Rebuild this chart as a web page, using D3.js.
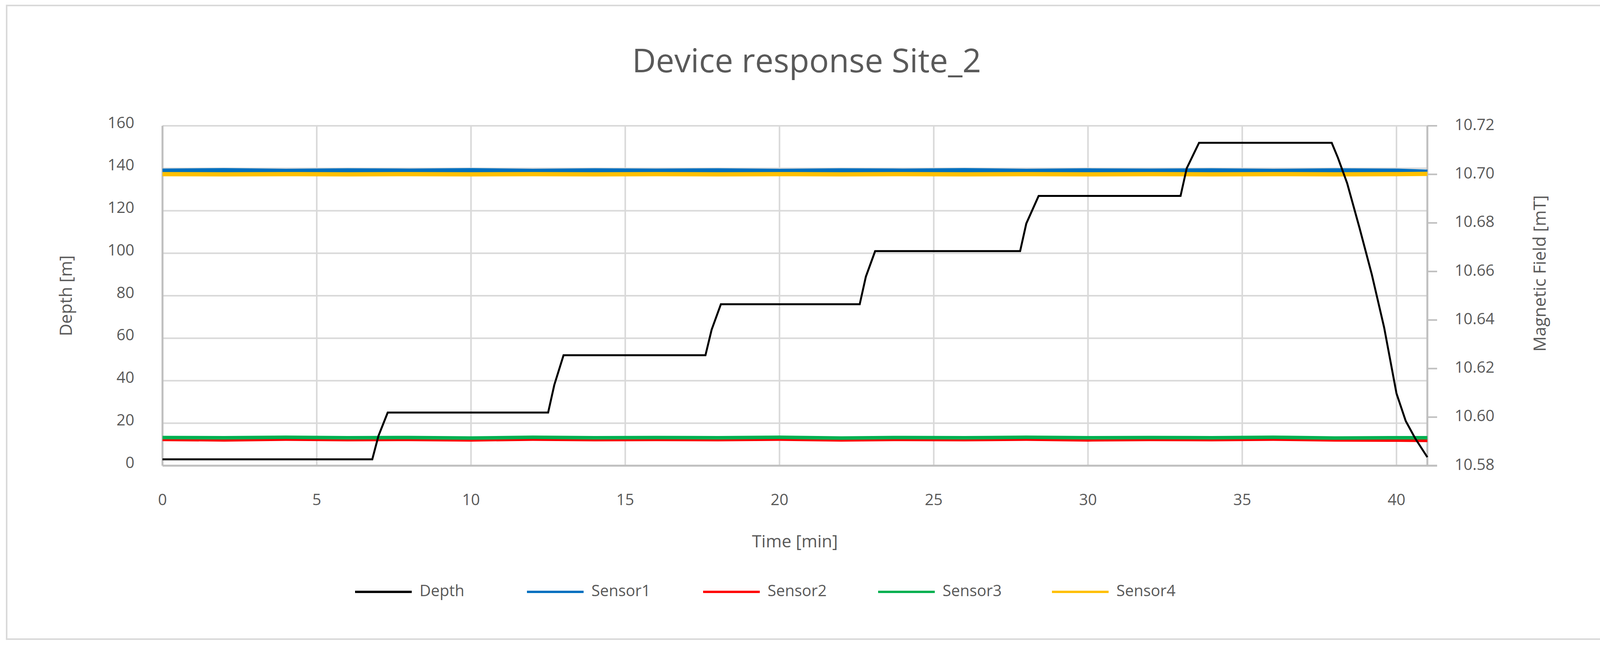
<!DOCTYPE html>
<html><head><meta charset="utf-8">
<script src="https://cdn.jsdelivr.net/npm/d3@7/dist/d3.min.js"></script>
<style>body{margin:0;background:#fff}text{font-family:"Open Sans",sans-serif;fill:#595959}</style>
</head><body><svg id="c" width="4131" height="1651"></svg>
<script>
const title = "Device response Site_2";
const xTicks = [0,5,10,15,20,25,30,35,40];
const depthTicks = [0,20,40,60,80,100,120,140,160];
const fieldTicks = [10.58,10.60,10.62,10.64,10.66,10.68,10.70,10.72];
const seriesNames = ["Depth","Sensor1","Sensor2","Sensor3","Sensor4"];
const seriesColors = ["#000000","#0070c0","#ff0000","#00b050","#ffc000"];
const depthT = [0,6.8,7.0,7.3,12.5,12.7,13.0,17.6,17.8,18.1,22.6,22.8,23.1,27.8,28.0,28.4,33.0,33.2,33.6,37.9,38.1,38.4,38.8,39.2,39.6,40.0,40.3,40.6,41.0];
const depthV = [3,3,14,25,25,38,52,52,64,76,76,89,101,101,114,127,127,140,152,152,145,133,112,90,65,34,21,13,4];
const sensorT = [0,2,4,6,8,10,12,14,16,18,20,22,24,26,28,30,32,34,36,38,40,41];
const sensor1 = [10.7015,10.7017,10.7014,10.7016,10.7015,10.7017,10.7014,10.7016,10.7015,10.7016,10.7014,10.7016,10.7015,10.7017,10.7014,10.7016,10.7015,10.7016,10.7014,10.7016,10.7015,10.7011];
const sensor2 = [10.5910,10.5908,10.5911,10.5909,10.5910,10.5908,10.5911,10.5909,10.5910,10.5909,10.5911,10.5908,10.5910,10.5909,10.5911,10.5908,10.5910,10.5909,10.5911,10.5908,10.5907,10.5906];
const sensor3 = [10.5916,10.5915,10.5917,10.5915,10.5916,10.5914,10.5917,10.5915,10.5916,10.5915,10.5917,10.5914,10.5916,10.5915,10.5917,10.5915,10.5916,10.5915,10.5917,10.5914,10.5915,10.5915];
const sensor4 = [10.7001,10.7000,10.7001,10.7000,10.7001,10.7000,10.7001,10.7000,10.7001,10.7000,10.7001,10.7000,10.7001,10.7000,10.7001,10.7000,10.7001,10.7000,10.7001,10.7000,10.7001,10.7002];

const svg = d3.select("#c");
const L=416,R=3654,T=322,B=1192;
svg.append("rect").attr("x",17).attr("y",14).attr("width",4096).attr("height",1622).attr("fill","#fff").attr("stroke","#d9d9d9").attr("stroke-width",4);
const x = d3.scaleLinear().domain([0,41]).range([L,R]);
const yL = d3.scaleLinear().domain([0,160]).range([B,T]);
const yR = d3.scaleLinear().domain([10.58,10.72]).range([B,T]);
const g = svg.append("g");
// grid
g.selectAll(".hg").data(depthTicks).join("line").attr("x1",L).attr("x2",R).attr("y1",d=>yL(d)).attr("y2",d=>yL(d)).attr("stroke","#d9d9d9").attr("stroke-width",4);
g.selectAll(".vg").data(xTicks).join("line").attr("x1",d=>x(d)).attr("x2",d=>x(d)).attr("y1",T).attr("y2",B).attr("stroke","#d9d9d9").attr("stroke-width",4);
// axes lines
g.append("line").attr("x1",L).attr("x2",L).attr("y1",T).attr("y2",B).attr("stroke","#bfbfbf").attr("stroke-width",5);
g.append("line").attr("x1",R).attr("x2",R).attr("y1",T).attr("y2",B).attr("stroke","#bfbfbf").attr("stroke-width",5);
g.append("line").attr("x1",L).attr("x2",R+25).attr("y1",B).attr("y2",B).attr("stroke","#bfbfbf").attr("stroke-width",5);
g.selectAll(".rt").data(fieldTicks).join("line").attr("x1",R).attr("x2",R+25).attr("y1",d=>yR(d)).attr("y2",d=>yR(d)).attr("stroke","#bfbfbf").attr("stroke-width",4);
// tick labels
g.selectAll(".lt").data(depthTicks).join("text").attr("x",L-72).attr("y",d=>yL(d)-5).attr("text-anchor","end").attr("dominant-baseline","middle").attr("font-size",40).text(d=>d);
g.selectAll(".rtl").data(fieldTicks).join("text").attr("x",R+70).attr("y",d=>yR(d)).attr("dominant-baseline","middle").attr("font-size",40).text(d=>d.toFixed(2));
g.selectAll(".xt").data(xTicks).join("text").attr("x",d=>x(d)).attr("y",1282).attr("text-anchor","middle").attr("dominant-baseline","middle").attr("font-size",40).text(d=>d);
// titles
svg.append("text").attr("x",2065).attr("y",163).attr("text-anchor","middle").attr("dominant-baseline","middle").attr("font-size",84).text(title);
svg.append("text").attr("x",2035).attr("y",1389).attr("text-anchor","middle").attr("dominant-baseline","middle").attr("font-size",44).text("Time [min]");
svg.append("text").attr("transform","translate(172,757) rotate(-90)").attr("text-anchor","middle").attr("dominant-baseline","middle").attr("font-size",44).text("Depth [m]");
svg.append("text").attr("transform","translate(3945,700) rotate(-90)").attr("text-anchor","middle").attr("dominant-baseline","middle").attr("font-size",44).text("Magnetic Field [mT]");
// sensor lines
const sensors=[sensor1,sensor2,sensor3,sensor4];
const line = d3.line();
[sensor1,sensor4,sensor2,sensor3].forEach((s,k)=>{
  const idx=[0,3,1,2][k]; 
  g.append("path").attr("d",line(sensorT.map((t,i)=>[x(t),yR(s[i])]))).attr("fill","none").attr("stroke",seriesColors[idx+1]).attr("stroke-width",idx==2?9:11);
});
g.append("path").attr("d",line(depthT.map((t,i)=>[x(t),yL(depthV[i])]))).attr("fill","none").attr("stroke","#000").attr("stroke-width",5);
// legend
const lx=[909,1349,1800,2248,2693];
const lg=svg.selectAll(".lg").data(seriesNames).join("g");
lg.append("line").attr("x1",(d,i)=>lx[i]).attr("x2",(d,i)=>lx[i]+145).attr("y1",1515).attr("y2",1515).attr("stroke",(d,i)=>seriesColors[i]).attr("stroke-width",6);
lg.append("text").attr("x",(d,i)=>lx[i]+165).attr("y",1515).attr("dominant-baseline","middle").attr("font-size",40).text(d=>d);
</script></body></html>
